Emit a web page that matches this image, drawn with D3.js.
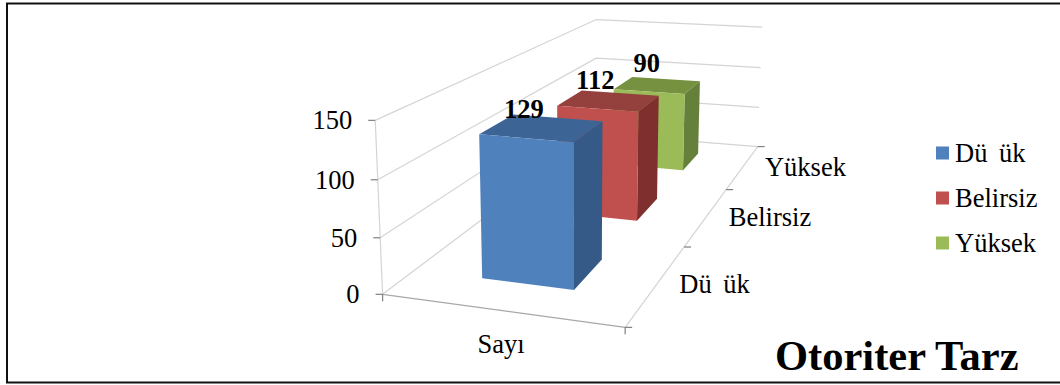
<!DOCTYPE html>
<html>
<head>
<meta charset="utf-8">
<script src="https://cdn.jsdelivr.net/npm/d3@7"></script>
<style>
    html, body { margin: 0; padding: 0; background: #fff; }
    text { font-family: "Liberation Serif", serif; fill: #000; }
</style>
</head>
<body>
<div id="chart"></div>
<script>
// chart values
const seriesNames = ["Dü ük", "Belirsiz", "Yüksek"];
const seriesValues = [129, 112, 90];
const seriesColors = ["#4f81bd", "#c0504d", "#9bbb59"];
const topColors = ["#3c6596", "#94403d", "#76913f"];
const sideColors = ["#355a88", "#7f2f2d", "#65803a"];
const categoryNames = ["Sayı"];
const valueTicks = [0, 50, 100, 150];

const width = 1060, height = 385;

const svg = d3.select("#chart").append("svg")
    .attr("width", width)
    .attr("height", height)
    .style("display", "block");

// box corners in unit coordinates and where they land on screen
const boxCorners = [
    [[0, 0, 0], [382, 295]], [[1, 0, 0], [625, 327]],
    [[1, 1, 0], [757, 147]], [[0, 1, 0], [597, 133]],
    [[0, 0, 1], [376, 120]], [[0, 1, 1], [595, 20]],
    [[1, 1, 1], [763, 27]]
];

// least squares fit of a 3x4 projective camera
function fitCamera(pairs) {
    const rows = [], rhs = [];
    pairs.forEach(([[x, y, z], [u, v]]) => {
        rows.push([x, y, z, 1, 0, 0, 0, 0, -u * x, -u * y, -u * z]); rhs.push(u);
        rows.push([0, 0, 0, 0, x, y, z, 1, -v * x, -v * y, -v * z]); rhs.push(v);
    });
    const n = 11;
    const m = d3.range(n).map(i => d3.range(n + 1).map(j =>
        d3.sum(rows, (r, k) => r[i] * (j < n ? r[j] : rhs[k]))));
    for (let i = 0; i < n; i++) {
        let p = i;
        for (let k = i + 1; k < n; k++) if (Math.abs(m[k][i]) > Math.abs(m[p][i])) p = k;
        [m[i], m[p]] = [m[p], m[i]];
        for (let k = 0; k < n; k++) {
            if (k === i) continue;
            const f = m[k][i] / m[i][i];
            for (let j = i; j <= n; j++) m[k][j] -= f * m[i][j];
        }
    }
    return d3.range(n).map(i => m[i][n] / m[i][i]);
}

const cam = fitCamera(boxCorners);
const project = (x, y, z) => {
    const w = cam[8] * x + cam[9] * y + cam[10] * z + 1;
    return [(cam[0] * x + cam[1] * y + cam[2] * z + cam[3]) / w,
            (cam[4] * x + cam[5] * y + cam[6] * z + cam[7]) / w];
};

const xScale = d3.scaleBand().domain(categoryNames).range([0.006, 1.002]).paddingInner(0.6).paddingOuter(0.3);
const depthScale = d3.scaleBand().domain(seriesNames).range([0.004, 1.004]).paddingInner(0.6).paddingOuter(0.3);
const zScale = d3.scaleLinear().domain([0, 150]).range([0, 1]);

const polyline = pts => d3.line()(pts.map(p => project(...p)));

// frame
svg.append("rect")
    .attr("x", 7).attr("y", 3.5)
    .attr("width", 1060).attr("height", 379)
    .attr("fill", "#fff").attr("stroke", "#111").attr("stroke-width", 2);

const grid = svg.append("g").attr("fill", "none").attr("stroke", "#d4d4d4").attr("stroke-width", 1.2);

valueTicks.forEach(t => {
    const z = zScale(t);
    grid.append("path").attr("d", polyline([[0, 0, z], [0, 1, z], [1, 1, z]]));
});
grid.append("path").attr("d", polyline([[0, 0, 0], [0, 0, 1]]));
grid.append("path").attr("d", polyline([[1, 0, 0], [1, 1, 0]]));
grid.append("path").attr("d", polyline([[0, 0, 0], [1, 0, 0]])).attr("stroke", "#a8a8a8");

// tick marks
const ticks = svg.append("g").attr("stroke", "#808080").attr("stroke-width", 1.2);
valueTicks.forEach(t => {
    const [px, py] = project(0, 0, zScale(t));
    ticks.append("line").attr("x1", px - 7).attr("x2", px).attr("y1", py).attr("y2", py);
});
d3.range(seriesNames.length + 1).forEach(i => {
    const [px, py] = project(1, i / seriesNames.length, 0);
    ticks.append("line").attr("x1", px).attr("x2", px + 7).attr("y1", py).attr("y2", py);
});
[0, 1].forEach(x => {
    const [px, py] = project(x, 0, 0);
    ticks.append("line").attr("x1", px).attr("x2", px).attr("y1", py).attr("y2", py + 7);
});

// bars, farthest first
const x0 = xScale(categoryNames[0]), x1 = x0 + xScale.bandwidth();
const bars = seriesNames.map((name, i) => ({ name, i, value: seriesValues[i] })).reverse();

bars.forEach(d => {
    const y0 = depthScale(d.name), y1 = y0 + depthScale.bandwidth();
    const z = zScale(d.value);
    const g = svg.append("g");
    g.append("path").attr("fill", topColors[d.i])
        .attr("d", polyline([[x0, y0, z], [x1, y0, z], [x1, y1, z], [x0, y1, z]]) + "Z");
    g.append("path").attr("fill", sideColors[d.i])
        .attr("d", polyline([[x1, y0, 0], [x1, y1, 0], [x1, y1, z], [x1, y0, z]]) + "Z");
    g.append("path").attr("fill", seriesColors[d.i])
        .attr("d", polyline([[x0, y0, 0], [x1, y0, 0], [x1, y0, z], [x0, y0, z]]) + "Z");
});

// value labels sit above the middle of each bar's front top edge
bars.forEach(d => {
    const [px, py] = project((x0 + x1) / 2, depthScale(d.name), zScale(d.value));
    svg.append("text")
        .attr("x", px - 2).attr("y", py - 20)
        .attr("text-anchor", "middle")
        .style("font-size", "26.5px").style("font-weight", "bold")
        .text(d.value);
});

// value axis labels
valueTicks.forEach(t => {
    const [px, py] = project(0, 0, zScale(t));
    svg.append("text")
        .attr("x", px - 23).attr("y", py + 9)
        .attr("text-anchor", "end")
        .style("font-size", "26.5px")
        .text(t);
});

// category and depth labels
svg.append("text")
    .attr("x", 501).attr("y", 353)
    .attr("text-anchor", "middle")
    .style("font-size", "26.5px")
    .text(categoryNames[0]);

seriesNames.forEach((name, i) => {
    const [px, py] = project(1, (i + 0.5) / seriesNames.length, 0);
    svg.append("text")
        .attr("x", px + 22).attr("y", py + 9.5)
        .style("font-size", "26.5px")
        .attr("word-spacing", 5)
        .text(name);
});

// legend
const legend = svg.append("g").attr("transform", "translate(936,0)");
const legendY = d3.scalePoint().domain(seriesNames).range([153, 243]);
seriesNames.forEach((name, i) => {
    legend.append("rect")
        .attr("x", 0).attr("y", legendY(name) - 6.5)
        .attr("width", 13).attr("height", 13)
        .attr("fill", seriesColors[i]);
    legend.append("text")
        .attr("x", 19).attr("y", legendY(name) + 9)
        .style("font-size", "26.5px")
        .attr("word-spacing", 5)
        .text(name);
});

// title
svg.append("text")
    .attr("x", 775).attr("y", 370)
    .style("font-size", "42.5px").style("font-weight", "bold")
    .text("Otoriter Tarz");
</script>
</body>
</html>
